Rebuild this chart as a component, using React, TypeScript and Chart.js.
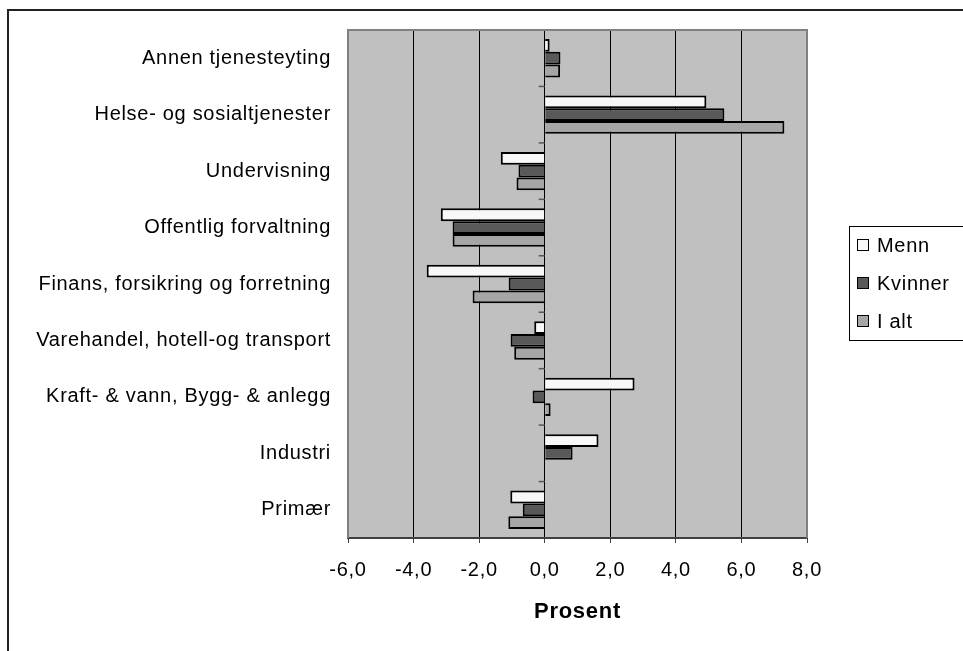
import React, { useEffect, useRef } from "react";
import { Chart, registerables } from "chart.js";

Chart.register(...registerables);

const categories = [
  "Annen tjenesteyting",
  "Helse- og sosialtjenester",
  "Undervisning",
  "Offentlig forvaltning",
  "Finans, forsikring og forretning",
  "Varehandel, hotell-og transport",
  "Kraft- & vann, Bygg- & anlegg",
  "Industri",
  "Primær",
];

const menn = [0.15, 4.93, -1.34, -3.17, -3.6, -0.32, 2.74, 1.64, -1.05];
const kvinner = [0.48, 5.48, -0.8, -2.81, -1.1, -1.04, -0.37, 0.85, -0.67];
const iAlt: (number | null)[] = [0.47, 7.31, -0.86, -2.81, -2.2, -0.93, 0.18, null, -1.11];

const seriesNames = ["Menn", "Kvinner", "I alt"];
const seriesColors = ["#f8f8f8", "#595959", "#a6a6a6"];

const xTicks = [-6, -4, -2, 0, 2, 4, 6, 8];
const xTickLabels = ["-6,0", "-4,0", "-2,0", "0,0", "2,0", "4,0", "6,0", "8,0"];
const xTitle = "Prosent";

const FONT = "'Liberation Sans', Arial, sans-serif";

const decorPlugin = {
  id: "decor",
  beforeDraw(chart: any) {
    const { ctx, chartArea } = chart;
    ctx.letterSpacing = "0.7px";
    ctx.save();
    ctx.fillStyle = "#c0c0c0";
    ctx.fillRect(chartArea.left, chartArea.top, chartArea.right - chartArea.left, chartArea.bottom - chartArea.top);
    ctx.restore();
  },
  afterDatasetsDraw(chart: any) {
    const { ctx, chartArea } = chart;
    const xs = chart.scales.x;
    const x0 = xs.getPixelForValue(0);
    const n = categories.length;
    const band = (chartArea.bottom - chartArea.top) / n;
    ctx.save();
    ctx.strokeStyle = "#555";
    ctx.lineWidth = 1.5;
    for (let i = 0; i < n; i++) {
      const y = chartArea.top + i * band;
      ctx.beginPath();
      ctx.moveTo(x0 - 6, y);
      ctx.lineTo(x0, y);
      ctx.stroke();
    }
    ctx.strokeStyle = "#808080";
    ctx.lineWidth = 2;
    ctx.beginPath();
    ctx.moveTo(chartArea.left, chartArea.bottom);
    ctx.lineTo(chartArea.left, chartArea.top);
    ctx.lineTo(chartArea.right, chartArea.top);
    ctx.lineTo(chartArea.right, chartArea.bottom);
    ctx.stroke();
    ctx.restore();
  },
  afterDraw(chart: any) {
    const { ctx } = chart;
    ctx.save();
    ctx.strokeStyle = "#222";
    ctx.lineWidth = 2;
    ctx.beginPath();
    ctx.moveTo(8, 660);
    ctx.lineTo(8, 10);
    ctx.lineTo(970, 10);
    ctx.stroke();
    ctx.strokeStyle = "#000";
    ctx.lineWidth = 1;
    ctx.strokeRect(849.5, 226.5, 130, 114);
    ctx.font = `20px ${FONT}`;
    ctx.textBaseline = "middle";
    ctx.textAlign = "left";
    const ys = [245, 283, 321];
    seriesNames.forEach((name, i) => {
      ctx.fillStyle = seriesColors[i];
      ctx.fillRect(857.5, ys[i] - 5.5, 11, 11);
      ctx.strokeStyle = "#000";
      ctx.strokeRect(857.5, ys[i] - 5.5, 11, 11);
      ctx.fillStyle = "#000";
      ctx.fillText(name, 877, ys[i] + 1);
    });
    ctx.restore();
  },
};

export default function App() {
  const ref = useRef<HTMLCanvasElement>(null);
  useEffect(() => {
    const canvas = ref.current;
    if (!canvas) return;
    const values = [menn, kvinner, iAlt];
    const chart = new Chart(canvas, {
      type: "bar",
      data: {
        labels: categories,
        datasets: seriesNames.map((name, i) => ({
          label: name,
          data: values[i] as any,
          backgroundColor: seriesColors[i],
          borderColor: "#000",
          borderWidth: 2,
          categoryPercentage: 0.68,
          barPercentage: 1,
        })),
      },
      options: {
        indexAxis: "y",
        animation: false,
        responsive: false,
        maintainAspectRatio: false,
        devicePixelRatio: 1,
        layout: { padding: { left: 0, top: 30, right: 156, bottom: 25.8 } },
        plugins: {
          legend: { display: false },
          tooltip: { enabled: false },
        },
        scales: {
          x: {
            type: "linear",
            min: -6,
            max: 8,
            afterBuildTicks(scale: any) {
              scale.ticks = xTicks.map((v) => ({ value: v }));
            },
            afterFit(scale: any) {
              scale.height = 87.2;
            },
            ticks: {
              color: "#000",
              font: { family: FONT, size: 20 },
              padding: 15,
              maxRotation: 0,
              autoSkip: false,
              callback: (v: any) => {
                const idx = xTicks.indexOf(Number(v));
                return idx >= 0 ? xTickLabels[idx] : "";
              },
            },
            grid: {
              color: (c: any) => {
                const v = c.tick ? c.tick.value : 0;
                return v === -6 || v === 8 ? "#808080" : "#000";
              },
              lineWidth: 1,
              drawTicks: true,
              tickLength: 5,
              tickColor: "#404040",
            },
            border: { display: true, color: "#404040", width: 2 },
            title: {
              display: true,
              text: xTitle,
              color: "#000",
              font: { family: FONT, size: 22, weight: "bold" },
              padding: { top: 0, bottom: 0 },
            },
          },
          y: {
            type: "category",
            afterFit(scale: any) {
              scale.width = 348;
            },
            ticks: {
              color: "#000",
              font: { family: FONT, size: 20 },
              padding: 17,
              autoSkip: false,
            },
            grid: { display: false, drawTicks: false },
            border: { display: false },
          },
        },
      },
      plugins: [decorPlugin],
    } as any);
    return () => chart.destroy();
  }, []);
  return (
    <div style={{ position: "fixed", left: 0, top: 0, width: 963, height: 651, background: "#fff" }}>
      <canvas ref={ref} width={963} height={651} style={{ width: 963, height: 651, display: "block" }} />
    </div>
  );
}
